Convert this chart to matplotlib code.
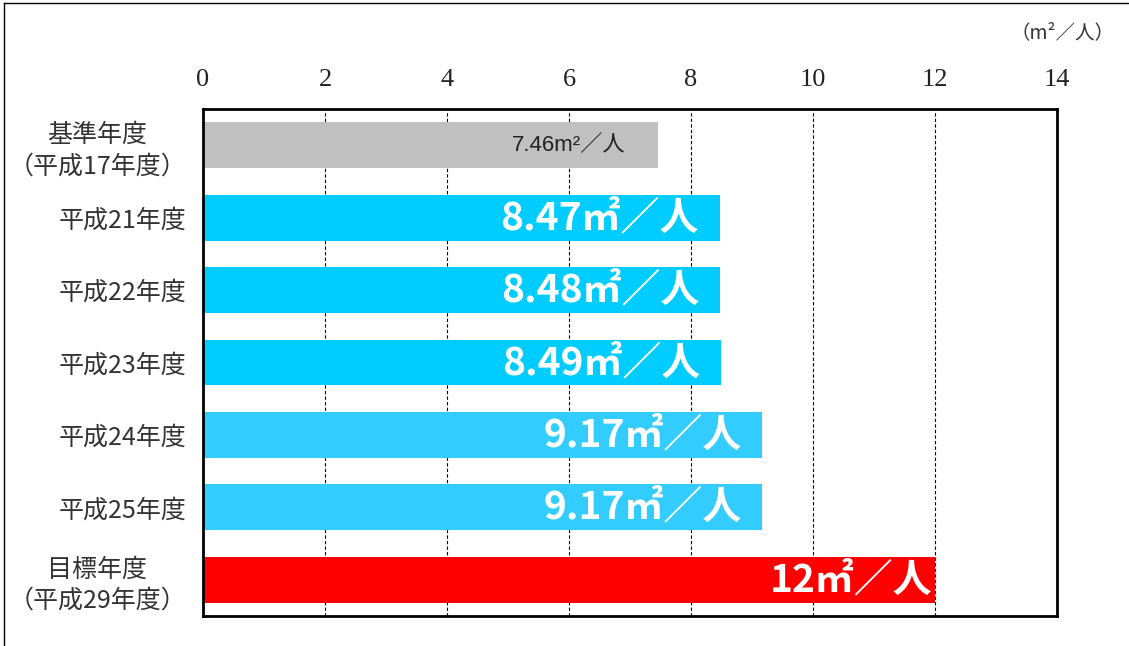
import matplotlib
matplotlib.use("Agg")
import matplotlib.pyplot as plt
from matplotlib.lines import Line2D
from matplotlib.transforms import offset_copy

categories = ["基準年度\n（平成17年度）", "平成21年度", "平成22年度", "平成23年度",
              "平成24年度", "平成25年度", "目標年度\n（平成29年度）"]
values = [7.46, 8.47, 8.48, 8.49, 9.17, 9.17, 12]
value_labels = ["7.46m²／人", "8.47㎡／人", "8.48㎡／人", "8.49㎡／人",
                "9.17㎡／人", "9.17㎡／人", "12㎡／人"]
colors = ["#C0C0C0", "#00CCFF", "#00CCFF", "#00CCFF", "#33CCFF", "#33CCFF", "#FF0000"]
xticks = [0, 2, 4, 6, 8, 10, 12, 14]
unit_label = "（m²／人）"

CJK = ["Noto Sans CJK JP", "DejaVu Sans"]
plt.rcParams['font.family'] = CJK

W, H = 1129, 646
fig = plt.figure(figsize=(W / 100, H / 100), dpi=100)
ax = fig.add_axes([203 / W, 1 - 616 / H, (1057 - 203) / W, (616 - 109) / H])

ypos = list(range(len(categories)))
ax.barh(ypos, values, height=0.635, color=colors, zorder=2)
ax.set_xlim(0, 14)
ax.set_ylim(len(categories) - 0.5, -0.5)

for x in xticks[1:-1]:
    ax.axvline(x, color="black", linestyle=(0, (3, 2)), linewidth=0.8, zorder=1)

ax.xaxis.tick_top()
ax.set_xticks(xticks)
ax.set_xticklabels([str(t) for t in xticks], family=["Liberation Serif"], fontsize=19, color="#222222")
ax.tick_params(axis="x", length=0, pad=13)
ax.set_yticks(ypos)
ax.set_yticklabels(categories, fontsize=18, color="#333333", linespacing=1.25,
                   multialignment="center")
ax.tick_params(axis="y", length=0, pad=12)

for sp in ax.spines.values():
    sp.set_linewidth(2)
    sp.set_color("black")

for i, (v, lab) in enumerate(zip(values, value_labels)):
    if i == 0:
        tr = offset_copy(ax.transData, fig=fig, x=-33, y=0, units="dots")
        ax.text(v, i, lab, transform=tr, ha="right", va="center", fontsize=16,
                color="#222222", family=["Liberation Sans", "Noto Sans CJK JP"], zorder=3)
    else:
        off = -3 if i == len(values) - 1 else -21
        tr = offset_copy(ax.transData, fig=fig, x=off, y=0, units="dots")
        ax.text(v, i, lab, transform=tr, ha="right", va="center", fontsize=28,
                color="white", fontweight="bold", zorder=3)

fig.text(1114 / W, 1 - 33 / H, unit_label, ha="right", va="center", fontsize=14, color="#333333")

# outer border (top and left)
x0 = 4 / W
y0 = 1 - 3 / H
fig.add_artist(Line2D([x0, 1], [y0, y0], transform=fig.transFigure, color="black", linewidth=1))
fig.add_artist(Line2D([x0, x0], [0, y0], transform=fig.transFigure, color="black", linewidth=1))

fig.savefig("out.png", dpi=100, facecolor="white")
